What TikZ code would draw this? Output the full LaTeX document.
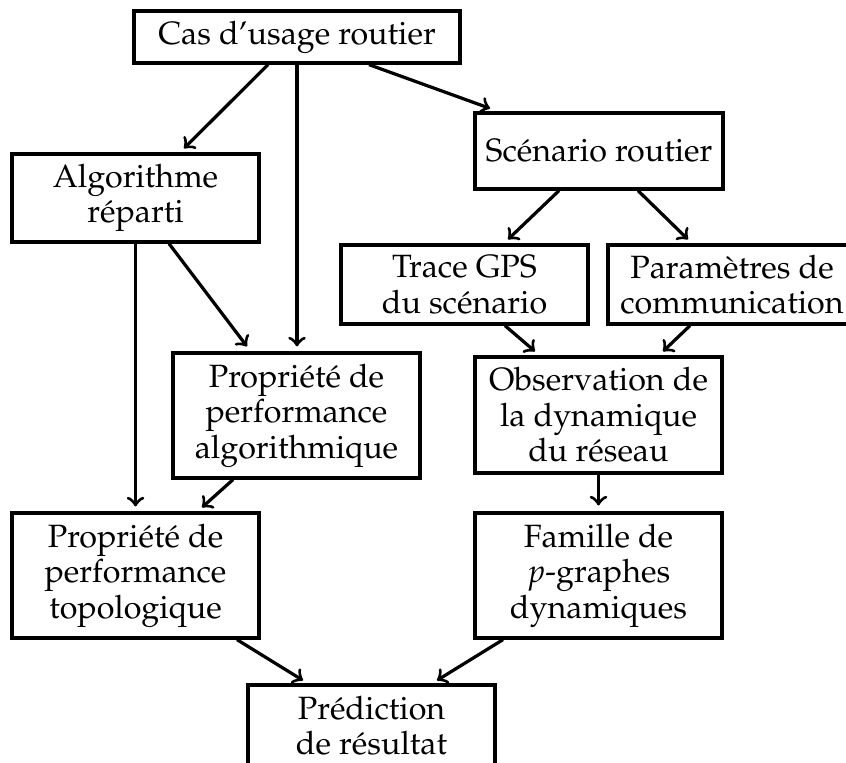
\documentclass[tikz,border=0pt]{standalone}
\usepackage[T1]{fontenc}
\usepackage{mathpazo}
\usetikzlibrary{calc}
\newcommand\pxu{0.31pt}
\begin{document}
\begin{tikzpicture}[x=0.31pt,y=-0.31pt,
  box/.style={draw,line width=1pt,align=center,inner sep=0pt,
    font=\fontsize{10}{11}\selectfont},
  arr/.style={->,line width=1pt}]
\useasboundingbox (0,0) rectangle (846,762);
\fill[white] (0,0) rectangle (846,762);
\clip (0,0) rectangle (846,762);
\node[box,minimum width=326*\pxu,minimum height=52*\pxu] (cas) at (297,37) {Cas d'usage routier};
\node[box,minimum width=248*\pxu,minimum height=76*\pxu] (scen) at (599,151) {Sc\'enario routier};
\node[box,minimum width=247*\pxu,minimum height=88*\pxu] (algo) at (135.5,198) {Algorithme\\r\'eparti};
\node[box,minimum width=247*\pxu,minimum height=79*\pxu] (trace) at (464.5,284.5) {Trace GPS\\du sc\'enario};
\node[box,minimum width=248*\pxu,minimum height=79*\pxu] (param) at (732,284.5) {Param\`etres de\\communication};
\node[box,minimum width=247*\pxu,minimum height=125*\pxu] (palg) at (296.5,415.5) {Propri\'et\'e de\\performance\\algorithmique};
\node[box,minimum width=247*\pxu,minimum height=116*\pxu] (obs) at (598.5,415) {Observation de\\la dynamique\\du r\'eseau};
\node[box,minimum width=247*\pxu,minimum height=125*\pxu] (topo) at (135.5,575.5) {Propri\'et\'e de\\performance\\topologique};
\node[box,minimum width=247*\pxu,minimum height=125*\pxu] (fam) at (598.5,575.5) {Famille de\\$p$-graphes\\dynamiques};
\node[box,minimum width=247*\pxu,minimum height=81*\pxu] (pred) at (371.5,725.5) {Pr\'ediction\\de r\'esultat};
\draw[arr] ($(cas.south)+(-29,0)$) -- ($(algo.north)+(48.5,-4)$);
\draw[arr] (cas.south) -- ($(cas.south |- palg.north)+(0,-5)$);
\draw[arr] ($(cas.south)+(72,0)$) -- ($(scen.north)+(-109,-3)$);
\draw[arr] ($(scen.south)+(-40,0)$) -- ($(trace.north)+(43.5,-4)$);
\draw[arr] ($(scen.south)+(39,0)$) -- ($(param.north)+(-44,-4)$);
\draw[arr] (algo.south) -- ($(algo.south |- topo.north)+(0,-5)$);
\draw[arr] ($(algo.south)+(33.5,0)$) -- ($(palg.north)+(-49.5,-5)$);
\draw[arr] ($(trace.south)+(40.5,0)$) -- ($(obs.north)+(-63.5,-4)$);
\draw[arr] ($(param.south)+(-42,0)$) -- ($(obs.north)+(64.5,-4)$);
\draw[arr] ($(palg.south)+(-63.5,0)$) -- ($(topo.north)+(66.5,-4)$);
\draw[arr] (obs.south) -- ($(fam.north)+(0,-6)$);
\draw[arr] ($(topo.south)+(101.5,0)$) -- ($(pred.north)+(-68.5,-3)$);
\draw[arr] ($(fam.south)+(-95.5,0)$) -- ($(pred.north)+(65.5,-3)$);
\end{tikzpicture}
\end{document}
